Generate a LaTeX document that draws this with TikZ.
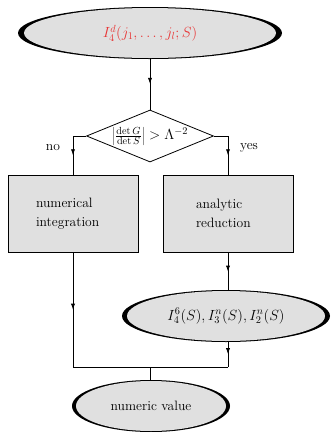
\RequirePackage{fix-cm}
\documentclass[tikz,border=0pt]{standalone}
\usetikzlibrary{shapes.geometric,arrows.meta,decorations.markings}
\DeclareMathSizes{13.6}{14.7}{10.3}{7.4}
\definecolor{myred}{RGB}{232,52,52}
\definecolor{mygray}{RGB}{224,224,224}
\begin{document}
\begin{tikzpicture}[x=1pt,y=-1pt,
  every node/.style={font=\fontsize{13.6}{19.5}\selectfont},
  inell/.style={ellipse, fill=mygray, inner sep=0pt},
  procbox/.style={rectangle, draw, fill=mygray, line width=0.9pt, minimum width=130pt, minimum height=77pt, align=left, inner sep=0pt},
  midarrow/.style={decoration={markings, mark=at position 0.5 with {\arrow{Latex[length=6pt,width=4.2pt]}}}, postaction={decorate}},
  conn/.style={line width=0.8pt}
]
\useasboundingbox (0,0) rectangle (332,432);

% start ellipse
\fill (150,33) ellipse [x radius=132, y radius=26];
\node[inell, minimum width=252pt, minimum height=50pt, text=myred] (start) at (150,33) {$I_4^d(j_1,\ldots,j_l;S)$};

% decision
\node[diamond, draw, line width=0.8pt, minimum width=127pt, minimum height=52pt, aspect=2.44, inner sep=0pt] (test) at (150,136) {$\left|\frac{\det G}{\det S}\right| > \Lambda^{-2}$};

% boxes
\node[procbox, text width=74pt] (numint) at (73,213.5) {numerical\\integration};
\node[procbox, text width=64pt] (anred) at (228,213.5) {analytic\\reduction};

% second ellipse
\fill (226,316) ellipse [x radius=104, y radius=26];
\node[inell, minimum width=198pt, minimum height=50pt] (ints) at (226,316) {$I_4^6(S), I_3^n(S), I_2^n(S)$};

% final ellipse
\fill (151,406) ellipse [x radius=79, y radius=26];
\node[inell, minimum width=150pt, minimum height=50pt] (final) at (151,406) {numeric value};

% labels
\node (no) at (53,148) {no};
\node (yes) at (249,148) {yes};

% coordinates
\coordinate (nl) at (73,136);
\coordinate (yr) at (228,136);
\coordinate (jl) at (73,367);
\coordinate (jr) at (228,367);
\coordinate (jm) at (150,367);

% connectors
\draw[conn,midarrow] (start.south) -- (test.north);
\draw[conn] (test.west) -- (nl);
\draw[conn,midarrow] (nl) -- (numint.north);
\draw[conn] (test.east) -- (yr);
\draw[conn,midarrow] (yr) -- (anred.north);
\draw[conn,midarrow] (numint.south) -- (jl);
\draw[conn,midarrow] (anred.south) -- (anred.south |- ints.north);
\draw[conn,midarrow] (ints.south -| anred.south) -- (jr);
\draw[conn] (jl) -- (jr);
\draw[conn] (jm) -- (jm |- final.north);
\end{tikzpicture}
\end{document}
